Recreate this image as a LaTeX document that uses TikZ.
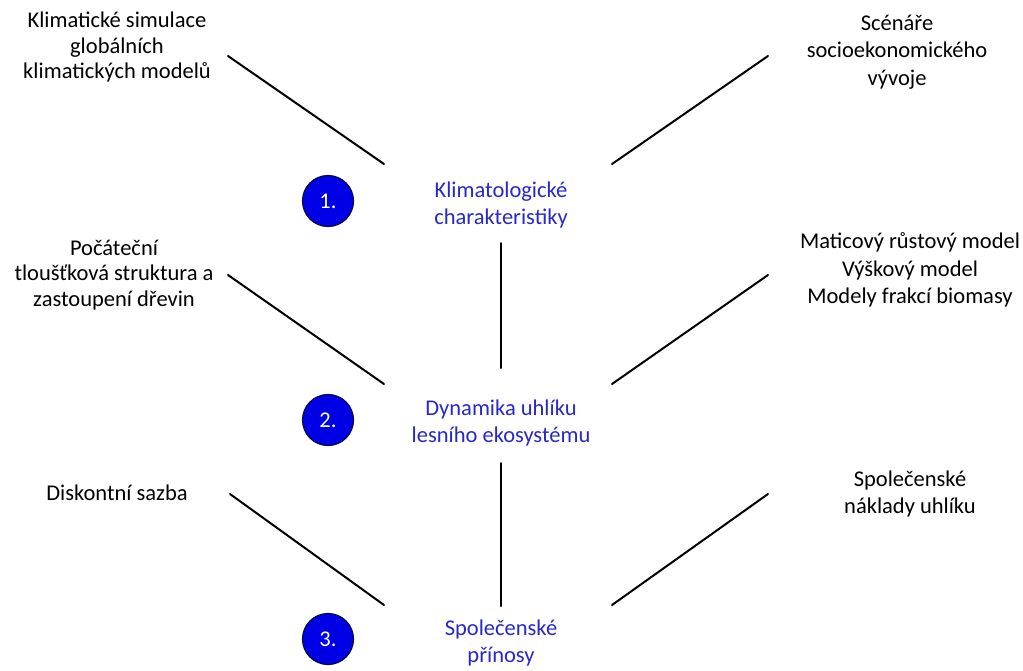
\documentclass[tikz,border=0pt]{standalone}
\usepackage{fontspec}
\setmainfont{Carlito}
\definecolor{stepblue}{RGB}{0,0,230}
\definecolor{stepedge}{RGB}{10,10,70}
\definecolor{labelblue}{RGB}{40,40,200}
\begin{document}
\begin{tikzpicture}[x=1pt,y=-1pt,
  txt/.style={align=center,font=\fontsize{22.5}{25.5}\selectfont,text=black,inner sep=0pt},
  rtxt/.style={txt,font=\fontsize{22.5}{27.5}\selectfont},
  mid/.style={txt,text=labelblue,font=\fontsize{22.5}{26.5}\selectfont},
  badge/.style={circle,fill=stepblue,draw=stepedge,line width=1.2pt,minimum size=51pt,inner sep=0pt,
    text=white,font=\fontsize{22.5}{24}\selectfont},
  link/.style={line width=2pt,line cap=round}]
\useasboundingbox (0,0) rectangle (1023,670);

% step badges
\node[badge] (b1) at (328,201) {1.};
\node[badge] (b2) at (328,420) {2.};
\node[badge] (b3) at (328,639) {3.};

% central stages
\node[mid] (s1) at (501,205) {Klimatologické\\charakteristiky};
\node[mid] (s2) at (501,423) {Dynamika uhlíku\\lesního ekosystému};
\node[mid] (s3) at (501,643) {Společenské\\přínosy};

% inputs on the left
\node[txt] (l1) at (117,47) {Klimatické simulace\\globálních\\klimatických modelů};
\node[txt] (l2) at (114,275) {Počáteční\\tloušťková struktura a\\zastoupení dřevin};
\node[txt] (l3) at (117,493) {Diskontní sazba};

% inputs on the right
\node[rtxt] (r1) at (897,52) {Scénáře\\socioekonomického\\vývoje};
\node[rtxt] (r2) at (910,270) {Maticový růstový model\\Výškový model\\Modely frakcí biomasy};
\node[rtxt] (r3) at (910,494) {Společenské\\náklady uhlíku};

% connector end points
\coordinate (l1e) at (228,56);  \coordinate (l1s) at (384,164);
\coordinate (r1e) at (768,56);  \coordinate (r1s) at (612,164);
\coordinate (l2e) at (228,275); \coordinate (l2s) at (384,384);
\coordinate (r2e) at (768,275); \coordinate (r2s) at (612,384);
\coordinate (l3e) at (230,494); \coordinate (l3s) at (384,605);
\coordinate (r3e) at (768,494); \coordinate (r3s) at (612,605);
\coordinate (v1a) at (501,243); \coordinate (v1b) at (501,368);
\coordinate (v2a) at (501,463); \coordinate (v2b) at (501,606);

\draw[link] (l1e) -- (l1s);
\draw[link] (r1e) -- (r1s);
\draw[link] (l2e) -- (l2s);
\draw[link] (r2e) -- (r2s);
\draw[link] (l3e) -- (l3s);
\draw[link] (r3e) -- (r3s);
\draw[link] (v1a) -- (v1b);
\draw[link] (v2a) -- (v2b);
\end{tikzpicture}
\end{document}
